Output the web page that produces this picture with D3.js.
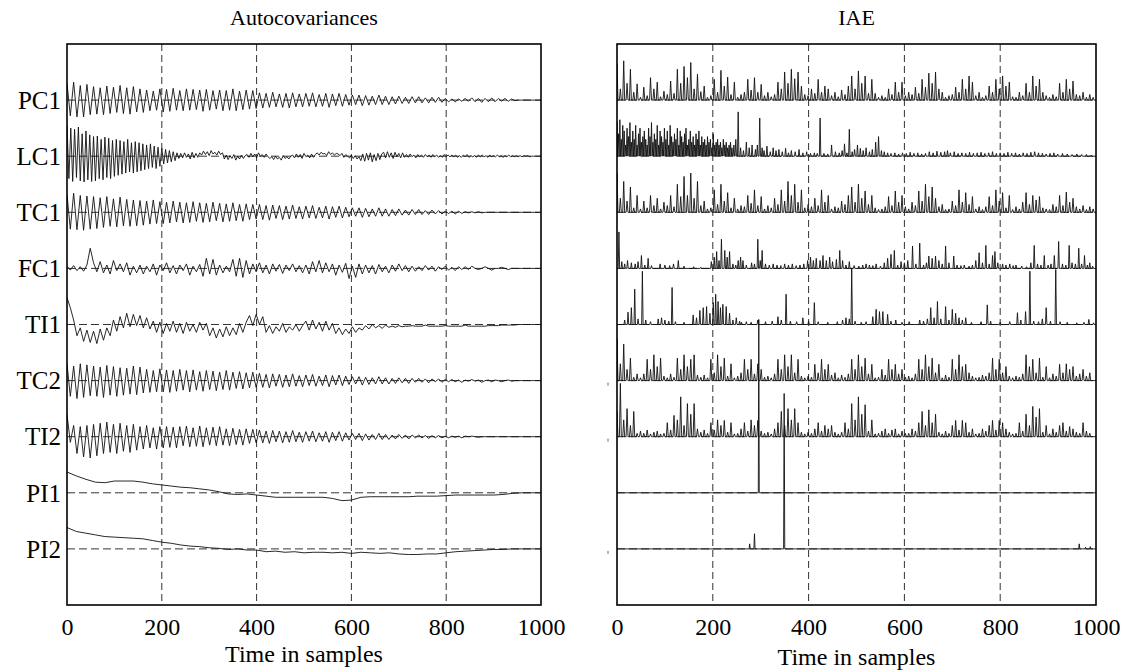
<!DOCTYPE html>
<html><head><meta charset="utf-8">
<script src="https://cdn.jsdelivr.net/npm/d3@7"></script>
<style>body{margin:0;background:#fff}svg{display:block}</style>
</head><body><svg id="c" width="1123" height="670"></svg>
<script>
const xTicks=[0,200,400,600,800,1000];
const gridX=[200,400,600,800];
const rowLabels=["PC1","LC1","TC1","FC1","TI1","TC2","TI2","PI1","PI2"];

// Autocovariances (values in % of row spacing). step 7 samples unless noted
const acPC1=[30,-28,32,-30,26,-30,28,-26,
24,-25,22,-26,25,-24,23,-22,26,-24,22,-25,24,-21,20,-22,18,-19,16,-18,20,
-21,19,-20,21,-18,17,-19,20,-18,19,-17,18,-20,19,-18,17,-16,18,-19,17,-18,20,-19,16,-17,18,-16,17,-15,
13,-14,12,-13,14,-12,11,-13,12,-14,13,-12,11,-12,
12,-11,13,-12,10,-11,12,-13,11,-10,12,-11,10,-9,
9,-8,9,-10,8,-9,7,-8,9,-8,7,-8,6,-7,7,
-6,5,-6,6,-5,6,-5,4,-5,5,-4,5,-4,3,
-3,2,-3,2,-2,3,-2,
4,-3,3,-4,3,-3,4,-3,3,-2,3,-2,2,-1,
0,0,0,0,0,0,0,0];
// step 4 samples
const acLC1=[55,-40,50,-45,48,-38,52,-44,40,-46,45,-42,38,
-45,35,-44,36,-40,30,-42,34,-38,32,-40,28,-36,
30,-34,28,-32,26,-30,30,-28,24,-30,26,-28,
24,-26,22,-24,20,-22,22,-20,18,-22,16,-18,14,
-14,12,-12,10,-10,8,-8,6,
-4,5,-3,6,-2,4,-5,7,-3,5,-2,6,
2,9,3,8,1,10,4,7,2,9,3,6,
-5,2,-6,1,-4,3,-7,0,-5,2,-4,1,
3,-2,5,-1,4,-3,6,0,3,-2,4,-1,
-4,-1,-6,0,-5,-2,-7,1,-4,-1,-5,0,
2,-3,4,-2,3,-4,5,-1,2,-3,4,-2,
3,6,2,7,4,5,1,8,3,6,2,5,
4,1,5,-2,3,0,-3,2,-4,1,-5,-1,
-8,4,-9,5,-7,6,-10,3,-8,5,-6,4,
7,-3,8,-2,6,-4,7,-1,5,-3,6,-2,
3,-2,4,-1,2,-3,3,-1,2,-2,3,-1,
2,-2,3,-1,2,-2,1,-2,3,-1,2,-1,
2,-1,2,-2,1,-2,2,-1,3,-2,1,-1,
1,-2,2,-1,2,-1,1,-2,2,-1,1,-1,
2,-1,1,-2,1,-1,2,-1,1,-1,1,-1,
1,-1,1,0,1,-1,0,0,0,0,0,0];
const acTC1=[32,-30,34,-31,30,-32,29,-30,
28,-29,26,-27,28,-25,24,-26,27,-24,23,-25,22,-24,21,-23,20,-21,22,-20,19,
-20,18,-19,20,-17,18,-19,17,-18,19,-16,17,-18,16,-17,18,-15,16,-17,15,-16,17,-15,14,-16,15,-13,14,-12,
14,-13,12,-14,13,-11,12,-13,11,-12,13,-11,10,-12,
11,-10,12,-11,9,-10,11,-12,10,-9,11,-10,9,-8,
8,-7,8,-9,7,-8,6,-7,8,-7,6,-7,5,-6,6,
-5,4,-5,5,-4,5,-4,3,-4,4,-3,3,-3,2,
-2,2,-3,2,-2,1,-1,
1,-1,1,-1,0,0,0,0,0,0,0,0,0,0,0,0,0,0,0,0,0,0];
const acFC1=[4,-3,5,-4,3,-5,6,
36,10,-6,
12,-8,6,-10,14,-4,8,-6,10,-12,4,
-8,6,-10,4,-6,8,-12,6,-4,10,-8,5,-10,6,-4,8,-12,4,-6,7,
-14,18,-10,16,-12,
6,-8,4,-6,
16,-14,18,-16,14,-10,
8,-6,10,-8,6,-10,8,-5,7,-9,6,-4,8,-6,5,
-8,6,-10,12,-6,14,-8,10,-6,8,-12,6,
-7,9,-18,4,-16,8,-10,
6,-8,5,-10,7,-6,4,-8,6,-5,8,-4,5,-6,4,-5,
3,-4,5,-3,4,-5,3,-2,4,-3,2,-4,3,-2,3,-2,
4,0,-2,0,3,0,-3,0,0,2,0,-2,0,0,0,0,0,0,0,0,0,0];
const acTI1=[48,30,8,-20,-6,
-30,-10,-32,-12,-34,-8,-28,-6,
-20,8,-12,14,-6,20,-4,18,-2,16,-6,12,-8,
6,-14,4,-16,2,-12,6,-14,2,-16,4,-12,0,-14,4,-10,2,
-20,-6,-24,-8,-22,-4,-20,-6,-18,2,-14,4,
16,-2,18,0,14,
-14,-2,-16,-4,-12,2,-14,-4,-10,0,-12,-2,
6,-10,8,-8,4,-12,6,-10,2,
-16,-6,-18,-8,-16,-4,-14,-6,-10,
-2,-8,0,-6,-2,-7,-1,-5,-3,-5,-2,-4,
-3,-3,-2,-3,-3,-3,-1,-3,-3,-3,-3,-3,
-2,-3,-3,-3,-3,-3,-1,-3,-3,-3,-3,-3,-3,
-2,-2,-2,-2,-1,-1,-1,-1,-1,0,0,0,0,0,0,0,0];
const acTC2=[30,-28,26,-32,30,-30,28,-27,
26,-28,24,-30,27,-26,25,-28,23,-26,22,-24,26,-25,24,-22,20,-21,18,-20,21,
-20,19,-21,18,-19,20,-17,18,-20,19,-17,16,-19,18,-16,17,-18,15,-16,18,-17,15,-14,16,-15,14,-13,15,-12,
13,-12,11,-13,12,-10,11,-12,10,-11,12,-10,9,-11,
10,-9,11,-10,8,-9,10,-11,9,-8,10,-9,8,-7,
7,-6,7,-8,6,-7,5,-6,7,-6,5,-6,4,-5,5,
-4,4,-5,4,-3,4,-3,3,-4,3,-2,3,-3,2,
-2,2,-2,1,-3,1,-1,
2,-1,1,-3,0,1,-2,1,0,-2,0,1,-1,0,0,0,0,0,0,0,0,0];
const acTI2=[40,-10,20,-30,18,-36,20,-38,
22,-34,24,-30,26,-28,22,-30,24,-26,20,-28,22,-24,18,-22,20,-20,16,-22,18,
-20,18,-19,17,-20,18,-16,19,-18,16,-17,19,-18,16,-15,17,-16,18,-15,14,-16,15,-14,13,-15,14,-12,13,-11,
12,-11,10,-12,11,-9,10,-11,9,-10,11,-9,8,-10,
9,-8,10,-9,7,-8,9,-10,8,-7,9,-8,7,-6,
6,-5,6,-7,5,-6,4,-5,6,-5,4,-5,3,-4,4,
-3,3,-4,3,-2,3,-2,2,-3,2,-2,2,-2,1,
-2,1,-1,1,-2,1,0,
1,0,-1,0,0,0,0,0,0,0,0,0,0,0,0,0,0,0,0,0,0,0];
// step 20 samples
const acPI1=[37,30,24,19,18,21,21,21,19,16,
14,12,10,9,7,5,2,-2,-3,-2,
-4,-6,-8,-8,-8,-8,-8,-8,-10,-14,
-13,-8,-7,-7,-7,-7,-7,-6,-6,-6,
-5,-4,-4,-4,-4,-4,-3,-1,0,0,0];
const acPI2=[38,31,28,25,22,21,20,19,18,15,
12,10,7,5,4,2,1,-1,0,-2,
-2,-5,-4,-6,-5,-7,-6,-6,-7,-6,
-8,-6,-7,-8,-7,-9,-10,-10,-9,-9,
-7,-5,-4,-3,-2,-1,-1,0,0,0,0];

// IAE spike heights (% of row spacing), step 7 samples
const iaePC1=[64,20,70,30,55,14,29,5,
23,8,40,20,32,6,16,10,
34,12,55,30,60,40,67,20,46,
15,25,5,8,37,14,53,
25,41,10,32,5,10,
14,37,18,40,14,28,
8,14,6,10,32,
20,50,30,55,38,50,25,
10,8,20,12,
37,14,25,20,8,14,
6,18,10,25,
43,20,52,30,43,12,37,
12,5,8,5,
20,10,32,14,32,8,
14,10,23,
12,37,23,48,30,50,
20,14,5,8,
10,23,14,37,20,43,32,
8,14,5,8,
25,14,37,20,43,25,32,
6,5,14,8,
30,14,43,25,37,14,
8,5,10,6,
30,14,37,20,34,10,
8,14,5,10,5,0];
const iaeTC1=[70,25,55,20,45,8,30,6,
20,8,30,12,25,6,18,12,
30,10,50,28,64,30,70,25,55,
12,20,6,8,40,14,50,
20,35,8,25,6,12,
10,30,16,40,12,28,
6,12,8,25,14,
40,20,55,30,50,18,40,
8,14,10,25,
12,40,18,30,6,10,
8,20,14,30,
45,18,50,25,38,14,30,
8,5,6,10,
28,12,38,18,30,10,
6,18,12,
38,20,50,28,45,25,
10,14,5,6,
20,12,40,18,35,14,28,
6,10,5,10,
28,12,40,20,35,8,30,
5,10,6,18,
35,14,30,22,28,8,
6,5,14,10,
30,12,36,18,25,10,
6,12,5,10,6,0];
const iaeTC2=[75,30,65,20,40,6,12,5,
12,38,20,46,25,40,8,
5,12,6,
40,20,46,25,38,46,10,
6,10,5,
38,14,46,25,40,8,30,
5,8,
14,38,20,38,12,30,20,6,
8,5,12,
38,20,46,25,46,14,38,8,
5,8,6,
29,14,38,20,29,10,14,5,
10,6,12,
38,20,46,25,40,12,29,
5,6,
20,10,38,20,29,12,20,6,
8,5,12,
38,20,46,25,40,14,29,
5,10,6,
38,20,46,25,29,14,8,5,
6,10,8,14,
40,20,38,14,25,8,5,
8,6,12,
46,25,38,14,40,6,25,
5,12,8,
29,14,30,20,25,8,
12,20,8,14,0,0];
const iaeTI2=[45,95,30,50,20,45,6,10,
6,12,5,8,10,5,6,
25,12,38,
30,71,20,59,40,59,14,
8,12,6,
25,12,30,20,29,8,25,
5,6,
14,25,10,30,20,29,10,6,
8,5,14,
25,45,20,50,30,50,25,8,
5,8,6,
14,25,10,20,14,20,8,5,
8,25,14,
59,30,71,40,57,10,30,
5,6,
10,14,6,12,14,5,10,6,
6,14,10,
25,45,20,48,25,40,8,
5,10,6,
20,29,12,29,25,8,14,5,
6,14,10,20,
29,12,29,25,14,8,5,
6,25,10,
40,20,54,35,50,8,20,
5,14,8,
20,25,10,18,14,8,
6,25,10,6,0,0];
// LC1 IAE: dense head, step 3 samples, then [sample, height] spikes
const iaeLC1Head=[60,40,65,30,55,45,20,50,35,60,25,
45,30,55,20,40,50,25,35,45,30,
20,50,35,60,25,40,30,55,20,45,
35,25,50,30,45,20,55,35,25,40,
30,50,20,45,35,25,40,50,20,30,
45,25,35,20,40,30,45,20,35,25,
30,20,35,25,30,15,40,20,25,30,
20,25,15,30,20,25,15,20,25,15];
const iaeLC1Tail=[[244,20],[248,30],[253,79],[258,15],[264,10],[270,25],[276,15],[282,20],[289,12],[293,20],[298,68],[303,15],[307,10],[313,18],[320,8],[326,15],[332,10],[338,12],[345,8],[352,14],[358,6],[364,10],[372,8],[380,12],[388,6],[396,8],[404,5],[412,6],[418,5],[424,68],[432,5],[440,4],[448,20],[456,8],[464,6],[470,10],[475,22],[480,6],[485,48],[491,8],[496,12],[502,20],[508,14],[514,10],[520,15],[527,8],[533,12],[540,25],[546,35],[552,10],[558,8],[565,6],[572,5],[580,6],[588,4],[596,6],[604,5],[612,7],[620,5],[628,6],[636,4],[644,5],[652,8],[660,6],[668,9],[676,7],[684,8],[690,10],[696,6],[704,8],[712,5],[720,6],[728,5],[736,7],[744,5],[752,6],[760,7],[768,5],[776,6],[784,8],[792,5],[800,6],[808,5],[816,7],[824,5],[832,6],[840,4],[848,6],[856,5],[864,7],[872,8],[880,6],[888,5],[896,4],[904,5],[912,6],[920,4],[930,5],[940,4],[950,3],[960,4],[970,3],[980,3],[990,2]];
const iaeFC1=[[4,65],[10,12],[16,8],[22,14],[30,10],[38,8],[44,12],[51,23],[58,6],[65,18],[72,5],[90,8],[100,6],[110,5],[118,8],[128,14],[140,4],[160,3],[175,2],[197,12],[203,20],[208,30],[213,14],[218,52],[225,32],[230,20],[235,30],[242,8],[248,6],[253,14],[258,20],[263,14],[270,6],[281,10],[287,8],[294,52],[299,14],[303,32],[310,8],[318,6],[326,8],[334,6],[342,5],[350,8],[358,6],[366,8],[374,5],[382,6],[390,8],[398,14],[404,20],[410,14],[416,18],[424,14],[430,23],[437,14],[444,20],[450,12],[458,16],[465,32],[471,14],[478,6],[485,12],[495,5],[505,4],[513,6],[520,8],[527,6],[534,5],[541,8],[550,4],[558,10],[565,18],[572,25],[579,32],[586,6],[593,12],[600,10],[607,14],[617,40],[624,8],[632,45],[640,6],[646,10],[651,22],[658,18],[665,22],[672,14],[679,8],[686,40],[693,10],[703,22],[710,6],[718,5],[725,6],[735,4],[742,6],[749,14],[756,28],[763,10],[770,41],[777,8],[784,23],[789,30],[795,10],[805,8],[812,6],[820,8],[827,5],[833,6],[845,4],[855,3],[864,10],[871,41],[878,8],[885,6],[892,23],[900,6],[906,8],[913,23],[922,48],[930,8],[937,6],[944,41],[950,10],[957,8],[964,36],[970,8],[976,23],[982,6],[987,10],[993,4]];
const iaeTI1=[[16,8],[23,22],[30,30],[37,63],[44,10],[53,95],[60,8],[70,5],[86,10],[93,12],[100,8],[108,6],[115,66],[122,5],[140,4],[159,17],[166,12],[173,25],[180,30],[187,32],[194,20],[201,39],[206,54],[211,41],[216,30],[221,36],[228,32],[235,20],[242,8],[249,12],[256,6],[260,4],[270,5],[280,4],[294,8],[310,5],[324,6],[336,14],[343,8],[353,54],[362,6],[375,5],[388,12],[400,6],[412,39],[420,5],[440,4],[460,5],[471,8],[478,12],[485,10],[490,100],[497,6],[510,4],[520,5],[534,14],[541,27],[548,23],[555,23],[565,18],[572,6],[582,8],[595,4],[610,5],[632,8],[640,6],[648,10],[655,30],[662,12],[669,41],[676,10],[686,32],[693,8],[700,27],[707,20],[714,12],[721,8],[728,12],[740,4],[760,5],[773,35],[780,6],[800,4],[820,5],[836,21],[843,8],[853,23],[862,95],[870,6],[880,5],[888,10],[896,30],[905,6],[916,98],[925,5],[940,4],[960,3],[975,4],[985,9],[995,3]];
const iaePI1=[[296,309]];
const iaePI2=[[277,9],[287,27],[349,277],[965,9],[978,3],[988,4]];

const svg=d3.select("#c");
const FONT='"Liberation Serif","Times New Roman",serif';
const TOP=44, BOT=605;
const y=d3.scaleLinear().domain([0,10]).range([TOP,BOT]);
const yv=(row,v)=>y(row - v/100);

function panel(id,x0,x1,title,labY){
  const x=d3.scaleLinear().domain([0,1000]).range([x0,x1]);
  const g=svg.append("g");
  g.append("clipPath").attr("id",id).append("rect")
    .attr("x",x0).attr("y",TOP).attr("width",x1-x0).attr("height",BOT-TOP);
  g.selectAll("line.vg").data(gridX).join("line").attr("class","vg")
    .attr("x1",d=>x(d)).attr("x2",d=>x(d)).attr("y1",TOP).attr("y2",BOT)
    .attr("stroke","#333").attr("stroke-width",1).attr("stroke-dasharray","7,4");
  g.selectAll("line.hg").data(d3.range(1,10)).join("line").attr("class","hg")
    .attr("x1",x0).attr("x2",x1).attr("y1",d=>y(d)).attr("y2",d=>y(d))
    .attr("stroke","#333").attr("stroke-width",1).attr("stroke-dasharray","8,4");
  const ax=g.append("g").attr("transform",`translate(0,${BOT})`)
    .call(d3.axisBottom(x).tickValues(xTicks).tickFormat(d3.format("d")).tickSize(0).tickPadding(13));
  ax.select(".domain").remove();
  ax.attr("font-family",FONT).attr("font-size",24);
  ax.selectAll("text").attr("fill","#000");
  g.append("text").attr("x",(x0+x1)/2).attr("y",labY).attr("text-anchor","middle")
    .attr("font-family",FONT).attr("font-size",24).text("Time in samples");
  g.append("text").attr("x",(x0+x1)/2).attr("y",25).attr("text-anchor","middle")
    .attr("font-family",FONT).attr("font-size",22).text(title);
  const plot=g.append("g").attr("clip-path",`url(#${id})`);
  return {x,g,plot,x0,x1};
}
function frame(p){
  p.g.append("rect").attr("x",p.x0).attr("y",TOP).attr("width",p.x1-p.x0).attr("height",BOT-TOP)
    .attr("fill","none").attr("stroke","#000").attr("stroke-width",1.6);
}

// Left panel
const L=panel("clipL",67,541,"Autocovariances",662);
const acSeries=[[acPC1,7],[acLC1,4],[acTC1,7],[acFC1,7],[acTI1,7],[acTC2,7],[acTI2,7],[acPI1,20],[acPI2,20]];
acSeries.forEach(([arr,step],i)=>{
  const row=i+1;
  const pts=arr.map((v,k)=>[k*step,v]);
  L.plot.append("path").datum(pts).attr("fill","none").attr("stroke","#111").attr("stroke-width",0.9)
    .attr("d",d3.line().x(d=>L.x(d[0])).y(d=>yv(row,d[1])));
});
L.g.selectAll("text.rl").data(rowLabels).join("text").attr("class","rl")
  .attr("x",61).attr("y",(d,i)=>y(i+1)).attr("dy","0.35em").attr("text-anchor","end")
  .attr("font-family",FONT).attr("font-size",25).text(d=>d);
frame(L);

// Right panel
const R=panel("clipR",617,1096,"IAE",665);
function spikePts(pairs,hw){
  const s=pairs.slice().sort((a,b)=>a[0]-b[0]);
  const pts=[[0,0]];
  s.forEach(([t,h])=>{ if(h>0){pts.push([t-hw,0],[t,h],[t+hw,0]);} });
  pts.push([1000,0]);
  return pts;
}
const stepPairs=(arr,step)=>arr.map((h,k)=>[k*step,h]);
const iaeSeries=[
  spikePts(stepPairs(iaePC1,7),2),
  spikePts(stepPairs(iaeLC1Head,3).concat(iaeLC1Tail),1.5),
  spikePts(stepPairs(iaeTC1,7),2),
  spikePts(iaeFC1,1.5),
  spikePts(iaeTI1,1.5),
  spikePts(stepPairs(iaeTC2,7),2),
  spikePts(stepPairs(iaeTI2,7),2),
  spikePts(iaePI1,1),
  spikePts(iaePI2,1.2)
];
iaeSeries.forEach((pts,i)=>{
  const row=i+1;
  R.plot.append("path").datum(pts).attr("fill","none").attr("stroke","#111").attr("stroke-width",0.9)
    .attr("d",d3.line().x(d=>R.x(d[0])).y(d=>yv(row,d[1])));
});
R.g.selectAll("line.yt").data([6,7,9]).join("line").attr("class","yt")
  .attr("x1",608).attr("x2",608).attr("y1",d=>y(d)+2).attr("y2",d=>y(d)+5)
  .attr("stroke","#666").attr("stroke-width",1);
frame(R);
</script></body></html>
